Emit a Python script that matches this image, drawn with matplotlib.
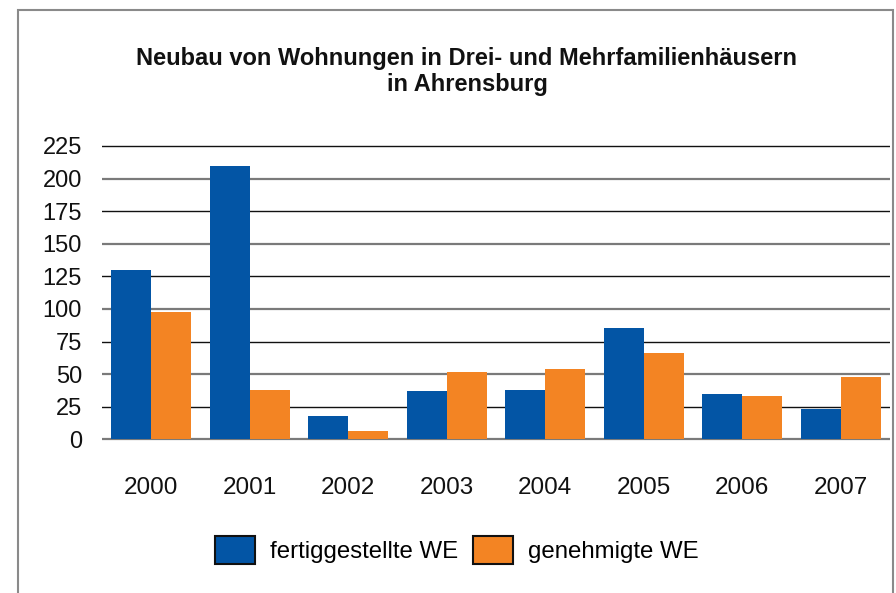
import matplotlib

matplotlib.use("Agg")

import matplotlib.pyplot as plt
from matplotlib.patches import Rectangle

W, H = 896, 593
FONT = "Liberation Sans"
BLUE = "#0355a5"
ORANGE = "#f38423"

years = ["2000", "2001", "2002", "2003", "2004", "2005", "2006", "2007"]
fertiggestellt = [130, 210, 18, 37, 38, 85, 35, 23]
genehmigt = [98, 38, 6, 52, 54, 66, 33, 48]
y_ticks = [0, 25, 50, 75, 100, 125, 150, 175, 200, 225]
series_labels = ["fertiggestellte WE", "genehmigte WE"]
title_lines = ["Neubau von Wohnungen in Drei- und Mehrfamilienhäusern", "in Ahrensburg"]


def px_x(x):
    return x / W


def px_y(y):
    return 1 - y / H


plt.rcParams["font.family"] = [FONT, "DejaVu Sans"]

fig = plt.figure(figsize=(W / 100, H / 100), dpi=100)

# outer frame (open at the bottom, as in the cut-off original)
fig.patches.append(
    Rectangle((px_x(18), -0.2), px_x(893) - px_x(18), px_y(10) + 0.2,
              transform=fig.transFigure, fill=False, edgecolor="#8a8a8a", linewidth=1.5)
)

for i, line in enumerate(title_lines):
    fig.text(px_x(467), px_y(58 + 27 * i), line, ha="center", va="center",
             fontsize=17, fontweight="bold", color="#111111")

# axes: y=0 at 439.3px, 1.3036 px per unit
unit = 293.3 / 225
ymin, ymax = -2, 230
bottom_px = 439.3 + (0 - ymin) * unit
top_px = 439.3 - ymax * unit
ax = fig.add_axes([px_x(102), px_y(bottom_px), px_x(890) - px_x(102), (bottom_px - top_px) / H])
ax.set_xlim(-0.5, len(years) - 0.5)
ax.set_ylim(ymin, ymax)
for s in ax.spines.values():
    s.set_visible(False)

for v in y_ticks:
    if v % 50 == 0:
        ax.axhline(v, color="#7a7a7a", lw=1.6, zorder=1)
    else:
        ax.axhline(v, color="#111111", lw=1.0, zorder=1)

bw = 0.406
xs = range(len(years))
b1 = ax.bar([x - bw / 2 for x in xs], fertiggestellt, width=bw, color=BLUE, zorder=2,
            label=series_labels[0])
b2 = ax.bar([x + bw / 2 for x in xs], genehmigt, width=bw, color=ORANGE, zorder=2,
            label=series_labels[1])

ax.set_yticks(y_ticks)
ax.set_yticklabels([str(v) for v in y_ticks])
ax.set_xticks(list(xs))
ax.set_xticklabels(years)
ax.tick_params(axis="y", length=0, pad=14.4, labelsize=17, labelcolor="#111111")
ax.tick_params(axis="x", length=0, pad=25, labelsize=17.5, labelcolor="#111111")

leg = fig.legend(handles=[b1, b2], loc="center", bbox_to_anchor=(px_x(456.5), px_y(550)),
                 ncol=2, frameon=False, fontsize=17.3, handlelength=1.67, handleheight=1.4,
                 handletextpad=0.62, columnspacing=0.62, borderpad=0)
for h in leg.legend_handles:
    h.set_edgecolor("#111111")
    h.set_linewidth(1.5)

fig.savefig("out.png", dpi=100)
